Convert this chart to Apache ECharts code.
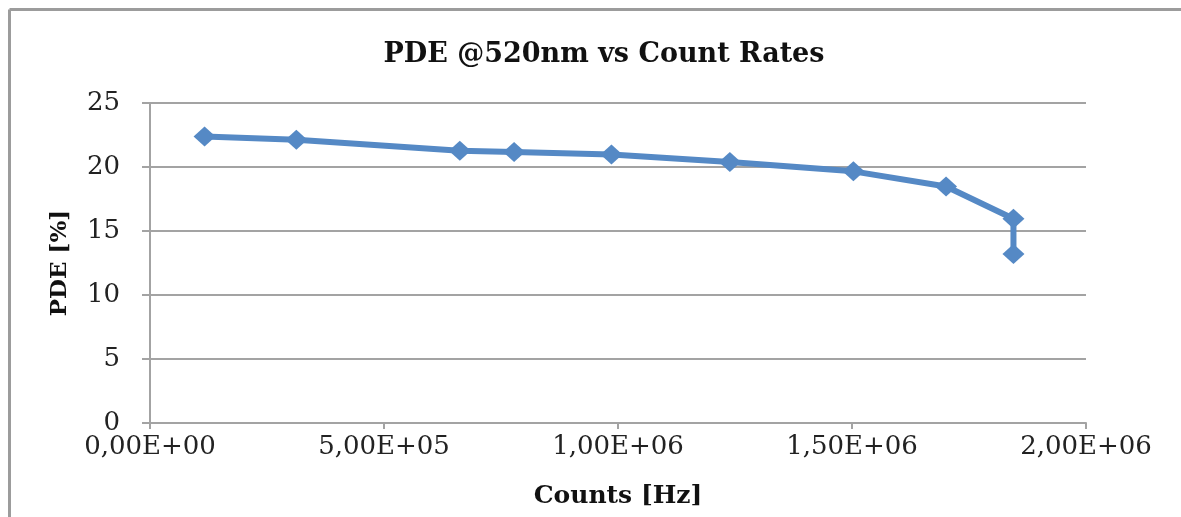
<!DOCTYPE html>
<html>
<head>
<meta charset="utf-8">
<script src="https://cdn.jsdelivr.net/npm/echarts@6/dist/echarts.min.js"></script>
<style>
  html, body { margin: 0; background: #fff; overflow: hidden; }
  #main { width: 1181px; height: 517px; }
</style>
</head>
<body>
<div id="main"></div>
<script>
// Counts [Hz] vs PDE [%]
var counts = [116600, 312700, 662000, 778000, 986000, 1239000, 1503000, 1701000, 1845000, 1845000];
var pde = [22.39, 22.13, 21.27, 21.17, 20.98, 20.39, 19.66, 18.48, 15.96, 13.2];

var points = counts.map(function (c, i) { return [c, pde[i]]; });

// 5,00E+05 style labels
function sci(v) {
    var parts = Number(v).toExponential(2).split('e');
    var exp = parseInt(parts[1], 10);
    var sign = exp < 0 ? '-' : '+';
    var e = String(Math.abs(exp));
    if (e.length < 2) e = '0' + e;
    return parts[0].replace('.', ',') + 'E' + sign + e;
}

var myChart = echarts.init(document.getElementById('main'));
var gray = '#a3a3a3';
var serif = 'DejaVu Serif';

var option = {
    animation: false,
    // chart frame: only top and left edges are visible in the crop
    graphic: [
        { type: 'line', shape: { x1: 9.5, y1: 9.5, x2: 1181, y2: 9.5 }, style: { stroke: '#9c9c9c', lineWidth: 3 } },
        { type: 'line', shape: { x1: 9.5, y1: 9.5, x2: 9.5, y2: 517 }, style: { stroke: '#9c9c9c', lineWidth: 3 } }
    ],
    title: {
        text: 'PDE @520nm vs Count Rates',
        left: 599,
        textAlign: 'center',
        top: 36,
        textStyle: { fontFamily: serif, fontWeight: 'bold', fontSize: 27, color: '#111' }
    },
    grid: { left: 150, right: 95, top: 103, bottom: 94 },
    xAxis: {
        type: 'value',
        min: 0,
        max: 2000000,
        interval: 500000,
        name: 'Counts [Hz]',
        nameLocation: 'middle',
        nameGap: 61,
        nameTextStyle: { fontFamily: serif, fontWeight: 'bold', fontSize: 25, color: '#111' },
        axisLine: { show: true, lineStyle: { color: gray, width: 2 } },
        axisTick: { show: true, length: 6, lineStyle: { color: gray, width: 2 } },
        axisLabel: { margin: 11, fontFamily: serif, fontSize: 26, color: '#222', formatter: sci },
        splitLine: { show: false }
    },
    yAxis: {
        type: 'value',
        min: 0,
        max: 25,
        interval: 5,
        name: 'PDE [%]',
        nameLocation: 'middle',
        nameRotate: 90,
        nameGap: 78,
        nameTextStyle: { fontFamily: serif, fontWeight: 'bold', fontSize: 23, color: '#111' },
        axisLine: { show: true, lineStyle: { color: gray, width: 2 } },
        axisTick: { show: true, length: 8, lineStyle: { color: gray, width: 2 } },
        axisLabel: { margin: 30, fontFamily: serif, fontSize: 26, color: '#222' },
        splitLine: { show: true, lineStyle: { color: gray, width: 2 } }
    },
    series: [
        {
            name: 'PDE',
            type: 'line',
            data: points,
            symbol: 'diamond',
            symbolSize: [22, 20],
            lineStyle: { color: '#5589c5', width: 6 },
            itemStyle: { color: '#5589c5' }
        }
    ]
};

myChart.setOption(option);
</script>
</body>
</html>
